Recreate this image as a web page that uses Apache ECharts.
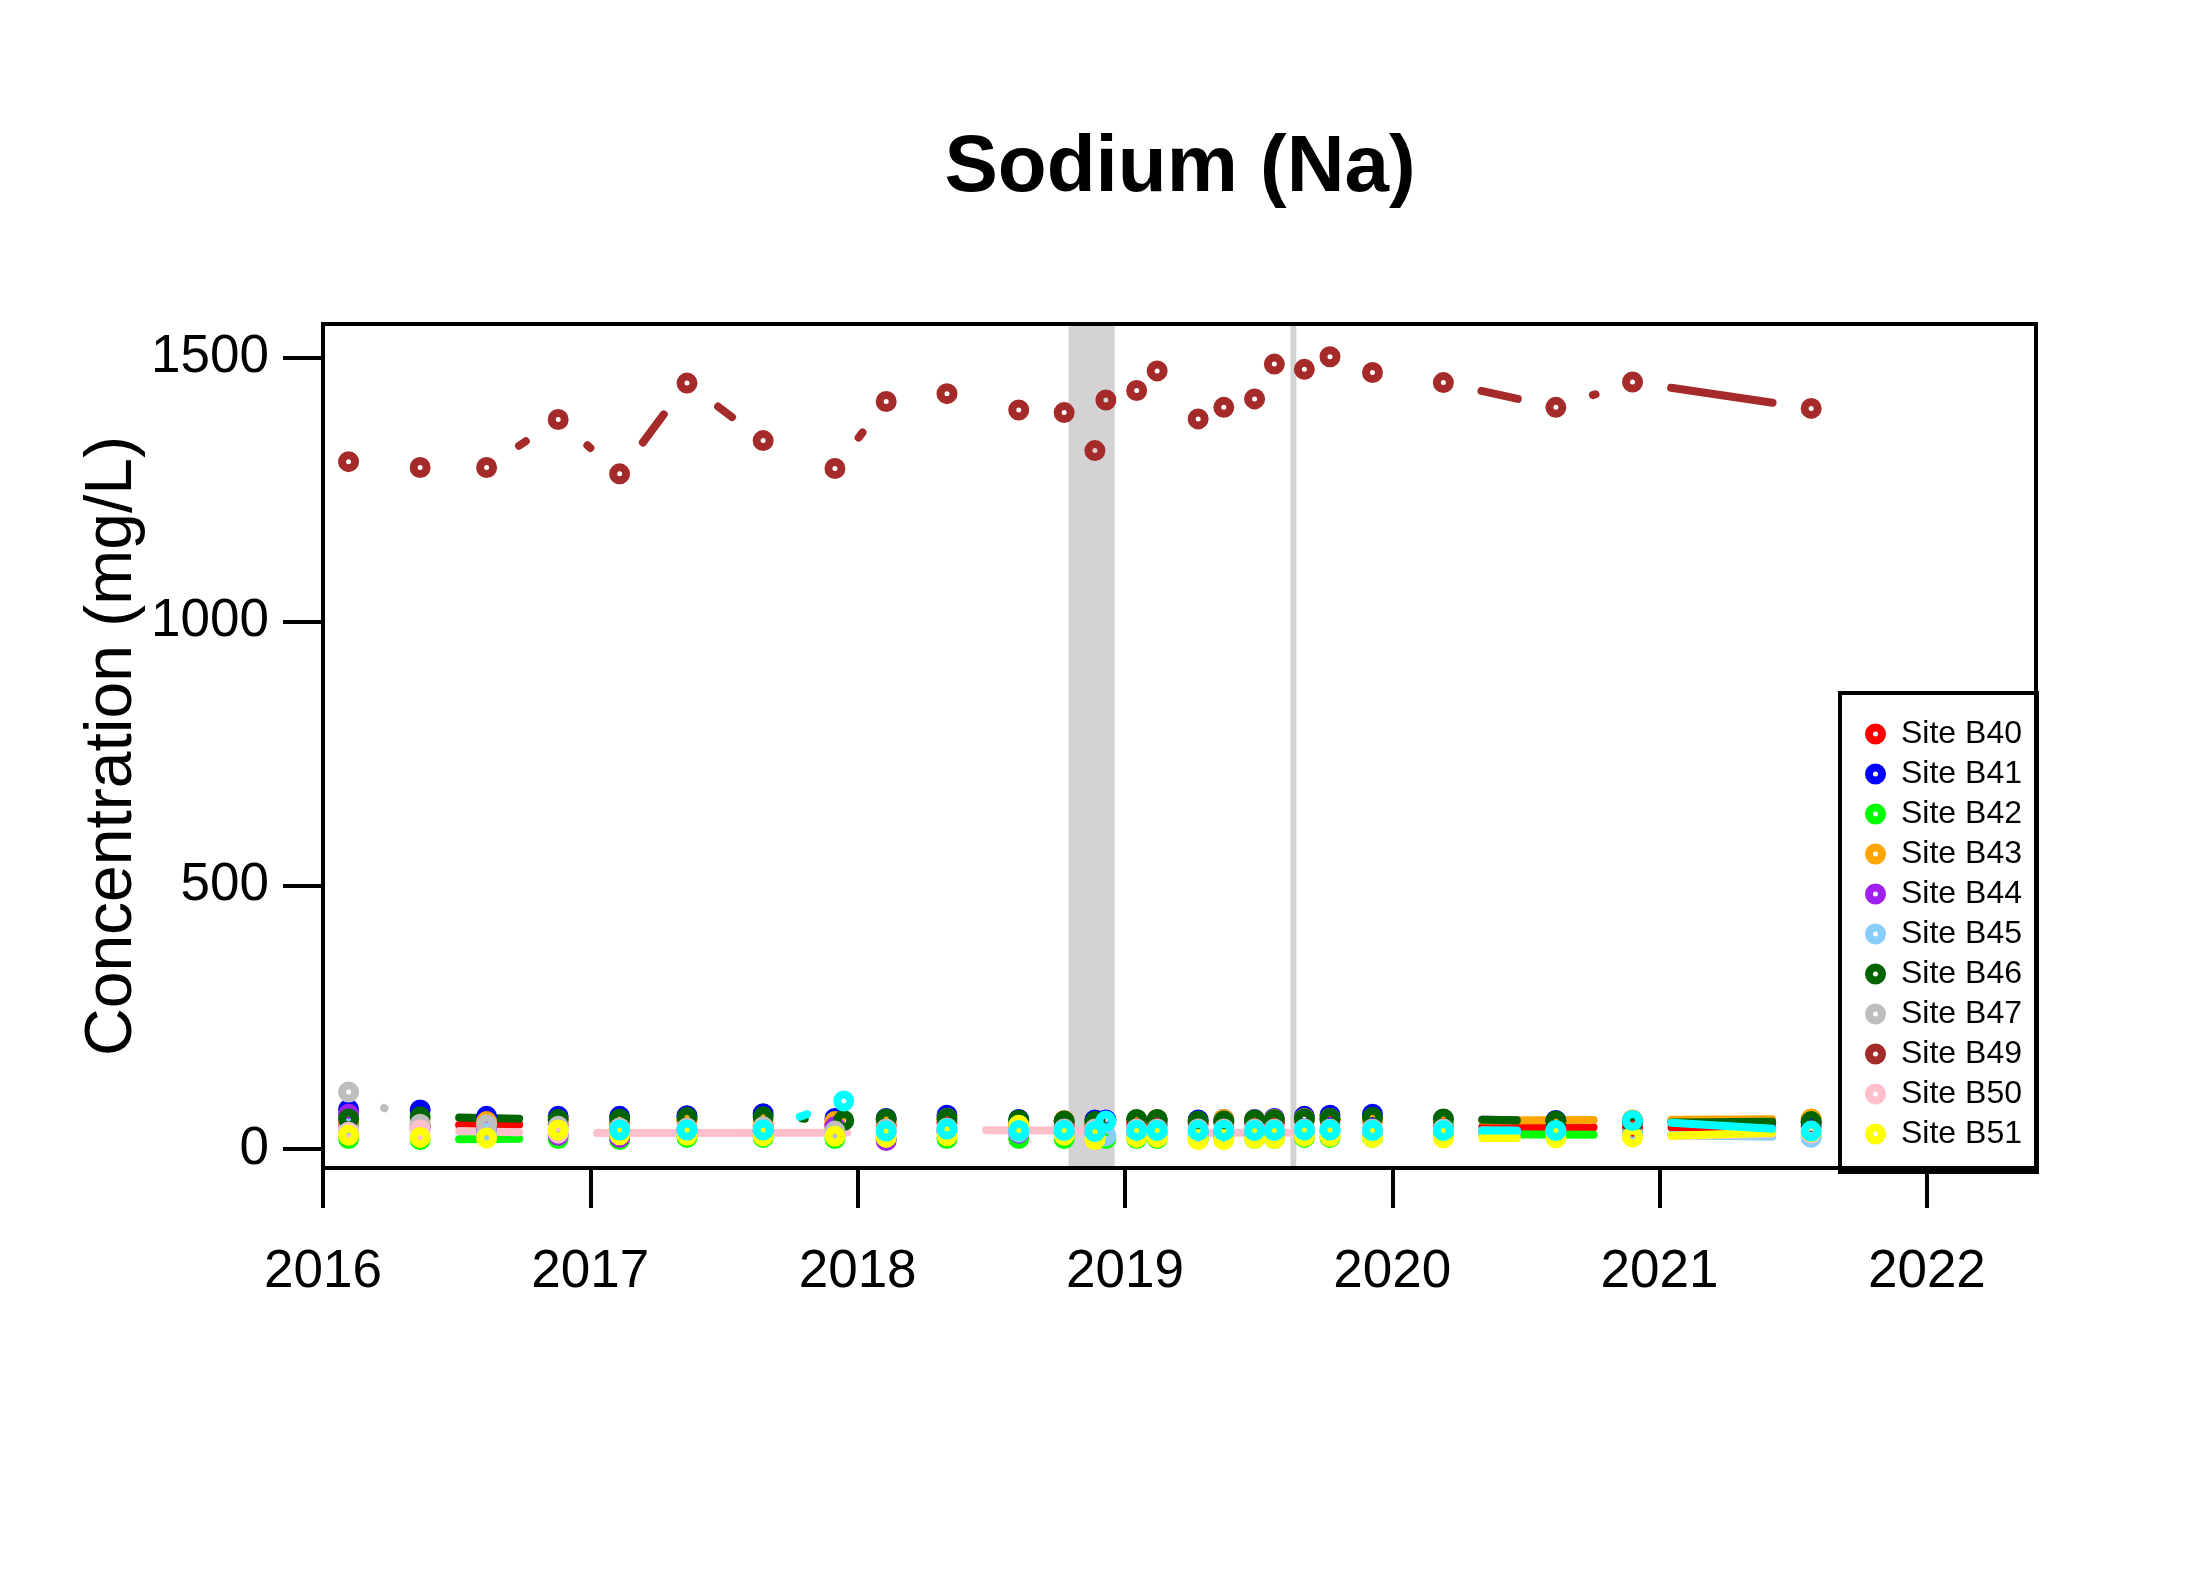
<!DOCTYPE html>
<html>
<head>
<meta charset="utf-8">
<script src="https://cdn.jsdelivr.net/npm/echarts@6/dist/echarts.min.js"></script>
<style>
html,body{margin:0;padding:0;background:#ffffff;}
#chart{width:2204px;height:1574px;}
</style>
</head>
<body>
<div id="chart"></div>
<script>
// ---------------- DATA ----------------
const sampleDates = ['2016-02-05','2016-05-13','2016-08-12','2016-11-18','2017-02-10','2017-05-13','2017-08-25','2017-12-01','2017-12-13','2018-02-09','2018-05-03','2018-08-09','2018-10-10','2018-11-21','2018-12-06','2019-01-17','2019-02-14','2019-04-11','2019-05-16','2019-06-27','2019-07-24','2019-09-03','2019-10-08','2019-12-05','2020-03-11','2020-08-12','2020-11-25','2021-07-27'];

const siteB40 = [45,45,null,47,44,56,44,46,null,45,50,45,45,45,null,45,46,48,50,50,50,57,55,55,42,null,41,42];
const siteB41 = [75,74,62,62,62,63,67,58,null,58,64,56,53,55,55,55,55,55,56,56,58,62,64,66,56,54,54,50];
const siteB42 = [20,18,null,20,18,22,22,20,null,20,20,20,20,null,20,20,20,20,22,20,20,22,22,22,28,null,27,24];
const siteB43 = [50,55,52,55,50,52,50,52,null,52,58,52,54,50,null,54,56,52,56,55,56,58,58,56,54,null,55,57];
const siteB44 = [66,40,35,26,22,36,34,42,null,16,33,30,30,30,null,30,30,32,32,32,32,32,34,30,34,34,null,null];
const siteB45 = [38,35,30,36,30,32,32,30,null,32,35,32,32,28,25,32,32,32,32,32,32,32,34,32,34,30,28,22];
const siteB46 = [57,61,null,56,57,60,61,null,54,57,58,55,53,52,null,56,56,53,53,55,55,57,58,60,57,53,50,52];
const siteB47 = [108,47,46,43,40,40,42,34,null,38,40,38,38,38,null,38,38,38,38,38,38,38,38,38,38,null,null,null];
const siteB48 = [null,null,null,null,36,36,36,null,91,34,38,35,35,33,53,35,35,35,35,35,35,36,36,35,35,35,54,34];
const siteB49 = [1303,1292,1292,1383,1280,1452,1343,1290,null,1417,1432,1401,1396,1324,1420,1438,1475,1384,1406,1422,1488,1478,1502,1472,1453,1406,1454,1404];
const siteB50 = [32,36,null,30,null,null,null,null,null,31,36,null,null,null,null,35,31,null,null,null,null,null,31,32,36,33,23,30];
const siteB51 = [26,22,21,36,27,26,25,24,null,22,25,45,26,18,null,22,22,18,18,20,20,24,24,22,21,21,23,33];

const legendSites = ['Site B40','Site B41','Site B42','Site B43','Site B44','Site B45','Site B46','Site B47','Site B49','Site B50','Site B51'];
const xTickYears = [2016,2017,2018,2019,2020,2021,2022];
const yTickValues = [0,500,1000,1500];
const shadedPeriods = [['2018-10-16','2018-12-18'],['2019-08-15','2019-08-23']];
const xStart = '2016-01-01';
const xEnd = '2022-05-30';

// ---------------- HELPERS ----------------
function decYear(s){
  const p = s.split('-').map(Number);
  const y = p[0];
  const t = Date.UTC(y, p[1]-1, p[2]);
  const a = Date.UTC(y,0,1), b = Date.UTC(y+1,0,1);
  return y + (t - a)/(b - a);
}

const sites = [
  {name:'Site B40', color:'#FF0000', values:siteB40},
  {name:'Site B41', color:'#0000FF', values:siteB41},
  {name:'Site B42', color:'#00FF00', values:siteB42},
  {name:'Site B43', color:'#FFA500', values:siteB43},
  {name:'Site B44', color:'#A020F0', values:siteB44},
  {name:'Site B45', color:'#87CEFA', values:siteB45},
  {name:'Site B46', color:'#006400', values:siteB46},
  {name:'Site B47', color:'#BEBEBE', values:siteB47},
  {name:'Site B49', color:'#A52A2A', values:siteB49},
  {name:'Site B50', color:'#FFC0CB', values:siteB50},
  {name:'Site B51', color:'#FFFF00', values:siteB51},
  {name:'Site B48', color:'#00FFFF', values:siteB48}
];

const GAP = 39;
const LINE_W = 8;
const FONT = "'Liberation Sans', Arial, Helvetica, sans-serif";
const GRID = {left:323, right:168, top:324, bottom:406};
const W = 2204, H = 1574;

const series = [];
// shaded periods (background)
series.push({
  type:'scatter', name:'_shade', data:[], silent:true, z:1,
  markArea:{
    silent:true,
    itemStyle:{color:'#D3D3D3'},
    data: shadedPeriods.map(p => [{xAxis:decYear(p[0])},{xAxis:decYear(p[1])}])
  }
});

sites.forEach(site => {
  const pts = [];
  sampleDates.forEach((d,i) => {
    if (site.values[i] !== null && site.values[i] !== undefined) pts.push([decYear(d), site.values[i]]);
  });
  const segs = [];
  for (let i = 1; i < pts.length; i++) segs.push([pts[i-1][0], pts[i-1][1], pts[i][0], pts[i][1]]);
  const col = site.color;
  series.push({
    type:'custom', name: site.name + ' line', silent:true, z:2,
    encode:{x:[0,2], y:[1,3]},
    data: segs,
    renderItem: function(params, api){
      const a = api.coord([api.value(0), api.value(1)]);
      const b = api.coord([api.value(2), api.value(3)]);
      const dx = b[0]-a[0], dy = b[1]-a[1];
      const d = Math.sqrt(dx*dx+dy*dy);
      if (d <= 2*GAP) return {type:'group', children:[]};
      const ux = dx/d, uy = dy/d;
      return {
        type:'line',
        shape:{x1:a[0]+ux*GAP, y1:a[1]+uy*GAP, x2:b[0]-ux*GAP, y2:b[1]-uy*GAP},
        style:{stroke:col, lineWidth:LINE_W, lineCap:'round', fill:null}
      };
    }
  });
  series.push({
    type:'scatter', name: site.name, z:2, silent:true,
    symbol:'circle', symbolSize:13,
    itemStyle:{color:'rgba(0,0,0,0)', borderColor:col, borderWidth:8, opacity:1},
    data: pts
  });
});

const chart = echarts.init(document.getElementById('chart'), null, {renderer:'canvas'});
chart.setOption({
  animation:false,
  backgroundColor:'#ffffff',
  grid:{left:GRID.left, right:GRID.right, top:GRID.top, bottom:GRID.bottom, show:false},
  xAxis:{
    type:'value', min:decYear(xStart), max:decYear(xEnd), interval:1,
    axisLine:{show:false, onZero:false},
    splitLine:{show:false},
    axisTick:{show:true, inside:false, length:40, lineStyle:{color:'#000', width:4}, customValues:xTickYears},
    axisLabel:{show:true, customValues:xTickYears, fontSize:53, color:'#000', fontFamily:FONT, margin:78, formatter:v=>String(Math.round(v))}
  },
  yAxis:{
    type:'value', min:-36, max:1564,
    axisLine:{show:false, onZero:false},
    splitLine:{show:false},
    axisTick:{show:true, inside:false, length:40, lineStyle:{color:'#000', width:4}, customValues:yTickValues},
    axisLabel:{show:true, customValues:yTickValues, fontSize:53, color:'#000', fontFamily:FONT, margin:54, formatter:v=>String(Math.round(v))}
  },
  legend:{
    data: legendSites,
    orient:'vertical',
    left:1840, top:693,
    backgroundColor:'#ffffff',
    borderColor:'#000000', borderWidth:4, borderRadius:0,
    padding:[25,15,22,25],
    itemWidth:13, itemHeight:13, itemGap:8,
    selectedMode:false,
    itemStyle:{color:'rgba(0,0,0,0)', borderWidth:8},
    textStyle:{fontSize:32, lineHeight:32, color:'#000', fontFamily:FONT, padding:[0,0,0,14]}
  },
  graphic:[
    {type:'rect', z:50, silent:true,
     shape:{x:GRID.left, y:GRID.top, width:W-GRID.left-GRID.right, height:H-GRID.top-GRID.bottom},
     style:{fill:null, stroke:'#000', lineWidth:4}},
    {type:'text', x:1180, y:169, z:10, style:{text:'Sodium (Na)', fontSize:80, fontWeight:'bold', fontFamily:FONT, fill:'#000', align:'center', verticalAlign:'middle'}},
    {type:'text', x:113, y:746, rotation:Math.PI/2, z:10, style:{text:'Concentration (mg/L)', fontSize:66, fontFamily:FONT, fill:'#000', align:'center', verticalAlign:'middle'}}
  ],
  series: series
});
</script>
</body>
</html>
